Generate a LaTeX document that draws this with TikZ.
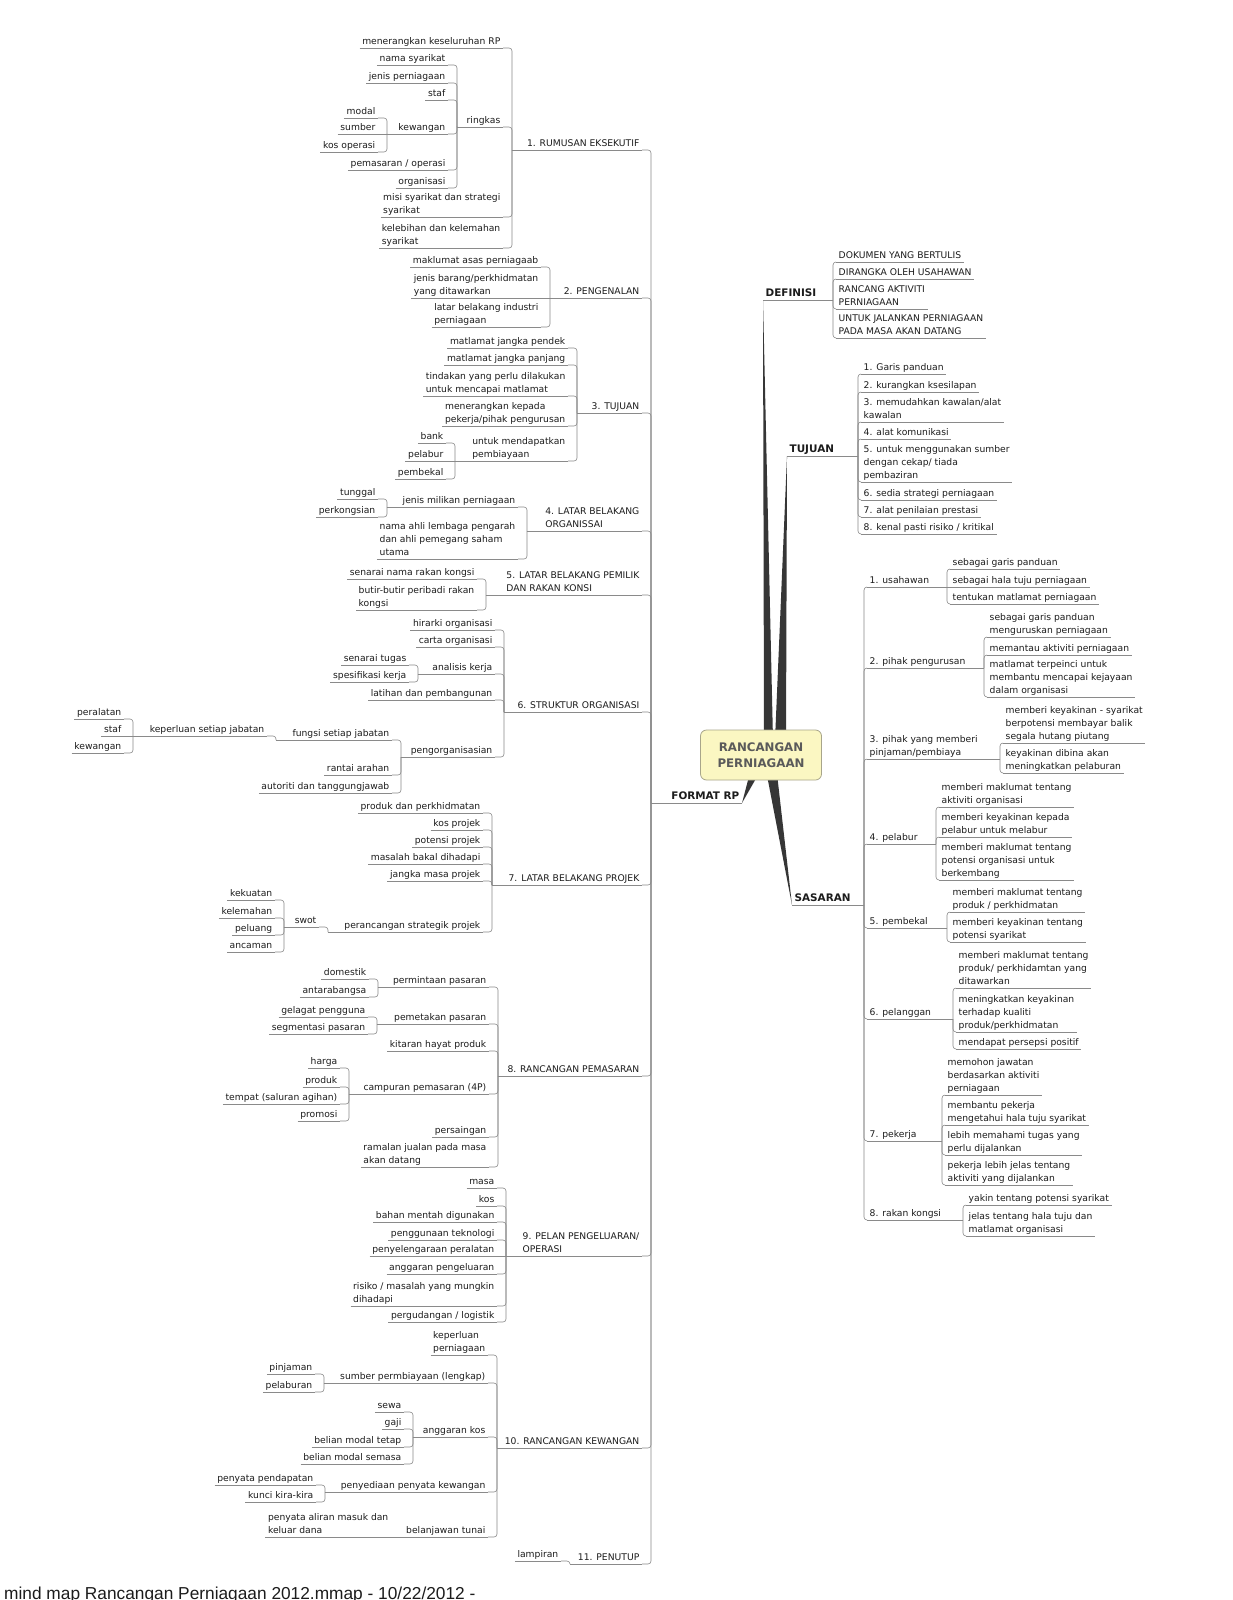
\documentclass[tikz,border=0pt]{standalone}
\usepackage{fontspec}
\setmainfont{DejaVu Sans}
\newfontfamily\footfamily{Liberation Sans}
\usetikzlibrary{calc}
\definecolor{lnc}{HTML}{8A8A8A}
\definecolor{txt}{HTML}{1C1C1C}
\definecolor{brc}{HTML}{363636}
\definecolor{rootfill}{HTML}{FBF7C2}
\definecolor{rootdraw}{HTML}{A8A58A}
\definecolor{roottext}{HTML}{5A5A5A}
\newcommand\tfont{\fontsize{9.2}{12.8}\selectfont}
\newcommand\bfont{\fontsize{10.4}{12.5}\selectfont\bfseries}
\newcommand\rfont{\fontsize{11.8}{16}\selectfont\bfseries}
\tikzset{
  ln/.style={draw=lnc,line width=0.6pt},
  tp/.style={font=\tfont,text=txt,inner xsep=2.5pt,inner ysep=1pt,text depth=2.3pt,align=left,
             append after command={(\tikzlastnode.south west) edge[ln] (\tikzlastnode.south east)}},
  lt/.style={tp,anchor=south east},
  rt/.style={tp,anchor=south west},
  hd/.style={font=\bfont},
  br/.style={fill=brc},
  root/.style={draw=rootdraw,fill=rootfill,rounded corners=6pt,line width=0.8pt,
               minimum width=121pt,minimum height=50pt,font=\rfont,text=roottext,align=center}
}
% children on the left of a topic / on the right of a topic
\newcommand\lkids[3]{%
  \coordinate (#1-h) at (#1.south -| #2,0);
  \draw[ln] (#1-h) -- (#1.south east);
  \foreach \ch in {#3} {\draw[ln,rounded corners=3pt] (\ch.south east) -| (#1-h);}}
\newcommand\rkids[3]{%
  \coordinate (#1-h) at (#1.south -| #2,0);
  \draw[ln] (#1.south west) -- (#1-h);
  \foreach \ch in {#3} {\draw[ln,rounded corners=3pt] (\ch.south west) -| (#1-h);}}
\newcommand\lstraight[2]{\draw[ln] (#2.south east) -- (#1-h);}
\newcommand\rstraight[2]{\draw[ln] (#2.south west) -- (#1-h);}

\begin{document}
\begin{tikzpicture}[x=1pt,y=-1pt]
  \fill[white] (0,0) rectangle (1232,1600);
  \useasboundingbox (0,0) rectangle (1232,1600);

  % main branches
  \node[rt,hd] (def) at (763,300) {DEFINISI};
  \node[rt,hd] (tuj) at (787,456) {TUJUAN};
  \node[rt,hd] (sas) at (792,905) {SASARAN};
  \node[lt,hd] (fmt) at (742,803) {FORMAT RP};
  \fill[br] (764,740) -- (773,740) -- (def.south west) -- cycle;
  \fill[br] (775,740) -- (786,740) -- (tuj.south west) -- cycle;
  \fill[br] (765,765) -- (776,765) -- (sas.south west) -- cycle;
  \fill[br] (752,765) -- (762,768) -- (fmt.south east) -- cycle;
  \node[root] (root) at (761,755) {RANCANGAN\\PERNIAGAAN};

  % 1
  \node[lt] (t1) at (642,150) {1. RUMUSAN EKSEKUTIF};
  \node[lt] (t1a) at (503,48) {menerangkan keseluruhan RP};
  \node[lt] (t1b) at (503,127) {ringkas};
  \node[lt] (t1c) at (503,217) {misi syarikat dan strategi\\syarikat};
  \node[lt] (t1d) at (503,248) {kelebihan dan kelemahan\\syarikat};
  \node[lt] (t1b1) at (448,65) {nama syarikat};
  \node[lt] (t1b2) at (448,83) {jenis perniagaan};
  \node[lt] (t1b3) at (448,100) {staf};
  \node[lt] (t1b4) at (448,134) {kewangan};
  \node[lt] (t1b5) at (448,170) {pemasaran / operasi};
  \node[lt] (t1b6) at (448,188) {organisasi};
  \node[lt] (t1b4a) at (378,118) {modal};
  \node[lt] (t1b4b) at (378,134) {sumber};
  \node[lt] (t1b4c) at (378,152) {kos operasi};
  \lkids{t1}{512}{t1a,t1b,t1c,t1d}
  \lkids{t1b}{457}{t1b1,t1b2,t1b3,t1b4,t1b5,t1b6}
  \lkids{t1b4}{387}{t1b4a,t1b4c}
  \lstraight{t1b4}{t1b4b}

  % 2
  \node[lt] (t2) at (642,298) {2. PENGENALAN};
  \node[lt] (t2a) at (541,267) {maklumat asas perniagaab};
  \node[lt] (t2b) at (541,298) {jenis barang/perkhidmatan\\yang ditawarkan};
  \node[lt] (t2c) at (541,327) {latar belakang industri\\perniagaan};
  \lkids{t2}{550}{t2a,t2c}
  \lstraight{t2}{t2b}

  % 3
  \node[lt] (t3) at (642,413) {3. TUJUAN};
  \node[lt] (t3a) at (568,348) {matlamat jangka pendek};
  \node[lt] (t3b) at (568,365) {matlamat jangka panjang};
  \node[lt] (t3c) at (568,396) {tindakan yang perlu dilakukan\\untuk mencapai matlamat};
  \node[lt] (t3d) at (568,426) {menerangkan kepada\\pekerja/pihak pengurusan};
  \node[lt] (t3e) at (568,461) {untuk mendapatkan\\pembiayaan};
  \node[lt] (t3e1) at (446,443) {bank};
  \node[lt] (t3e2) at (446,461) {pelabur};
  \node[lt] (t3e3) at (446,479) {pembekal};
  \lkids{t3}{577}{t3a,t3b,t3c,t3d,t3e}
  \lkids{t3e}{455}{t3e1,t3e3}
  \lstraight{t3e}{t3e2}

  % 4
  \node[lt] (t4) at (642,531) {4. LATAR BELAKANG\\ORGANISSAI};
  \node[lt] (t4a) at (518,507) {jenis milikan perniagaan};
  \node[lt] (t4b) at (518,559) {nama ahli lembaga pengarah\\dan ahli pemegang saham\\utama};
  \node[lt] (t4a1) at (378,499) {tunggal};
  \node[lt] (t4a2) at (378,517) {perkongsian};
  \lkids{t4}{527}{t4a,t4b}
  \lkids{t4a}{387}{t4a1,t4a2}

  % 5
  \node[lt] (t5) at (642,595) {5. LATAR BELAKANG PEMILIK\\DAN RAKAN KONSI};
  \node[lt] (t5a) at (477,579) {senarai nama rakan kongsi};
  \node[lt] (t5b) at (477,610) {butir-butir peribadi rakan\\kongsi};
  \lkids{t5}{486}{t5a,t5b}

  % 6
  \node[lt] (t6) at (642,712) {6. STRUKTUR ORGANISASI};
  \node[lt] (t6a) at (495,630) {hirarki organisasi};
  \node[lt] (t6b) at (495,647) {carta organisasi};
  \node[lt] (t6c) at (495,674) {analisis kerja};
  \node[lt] (t6d) at (495,700) {latihan dan pembangunan};
  \node[lt] (t6e) at (495,757) {pengorganisasian};
  \node[lt] (t6c1) at (409,665) {senarai tugas};
  \node[lt] (t6c2) at (409,682) {spesifikasi kerja};
  \node[lt] (t6e1) at (392,740) {fungsi setiap jabatan};
  \node[lt] (t6e2) at (392,775) {rantai arahan};
  \node[lt] (t6e3) at (392,793) {autoriti dan tanggungjawab};
  \node[lt] (t6f) at (267,736) {keperluan setiap jabatan};
  \node[lt] (t6f1) at (124,719) {peralatan};
  \node[lt] (t6f2) at (124,736) {staf};
  \node[lt] (t6f3) at (124,753) {kewangan};
  \lkids{t6}{504}{t6a,t6b,t6c,t6d,t6e}
  \lkids{t6c}{418}{t6c1,t6c2}
  \lkids{t6e}{401}{t6e1,t6e2,t6e3}
  \lkids{t6e1}{276}{t6f}
  \lkids{t6f}{133}{t6f1,t6f3}
  \lstraight{t6f}{t6f2}

  % 7
  \node[lt] (t7) at (642,885) {7. LATAR BELAKANG PROJEK};
  \node[lt] (t7a) at (483,813) {produk dan perkhidmatan};
  \node[lt] (t7b) at (483,830) {kos projek};
  \node[lt] (t7c) at (483,847) {potensi projek};
  \node[lt] (t7d) at (483,864) {masalah bakal dihadapi};
  \node[lt] (t7e) at (483,881) {jangka masa projek};
  \node[lt] (t7f) at (483,932) {perancangan strategik projek};
  \node[lt] (t7g) at (319,927) {swot};
  \node[lt] (t7g1) at (275,900) {kekuatan};
  \node[lt] (t7g2) at (275,918) {kelemahan};
  \node[lt] (t7g3) at (275,935) {peluang};
  \node[lt] (t7g4) at (275,952) {ancaman};
  \lkids{t7}{492}{t7a,t7b,t7c,t7d,t7e,t7f}
  \lkids{t7f}{328}{t7g}
  \lkids{t7g}{284}{t7g1,t7g2,t7g3,t7g4}

  % 8
  \node[lt] (t8) at (642,1076) {8. RANCANGAN PEMASARAN};
  \node[lt] (t8a) at (489,987) {permintaan pasaran};
  \node[lt] (t8b) at (489,1024) {pemetakan pasaran};
  \node[lt] (t8c) at (489,1051) {kitaran hayat produk};
  \node[lt] (t8d) at (489,1094) {campuran pemasaran (4P)};
  \node[lt] (t8e) at (489,1137) {persaingan};
  \node[lt] (t8f) at (489,1167) {ramalan jualan pada masa\\akan datang};
  \node[lt] (t8a1) at (369,979) {domestik};
  \node[lt] (t8a2) at (369,997) {antarabangsa};
  \node[lt] (t8b1) at (368,1017) {gelagat pengguna};
  \node[lt] (t8b2) at (368,1034) {segmentasi pasaran};
  \node[lt] (t8d1) at (340,1068) {harga};
  \node[lt] (t8d2) at (340,1087) {produk};
  \node[lt] (t8d3) at (340,1104) {tempat (saluran agihan)};
  \node[lt] (t8d4) at (340,1121) {promosi};
  \lkids{t8}{498}{t8a,t8b,t8c,t8d,t8e,t8f}
  \lkids{t8a}{378}{t8a1,t8a2}
  \lkids{t8b}{377}{t8b1,t8b2}
  \lkids{t8d}{349}{t8d1,t8d2,t8d3,t8d4}

  % 9
  \node[lt] (t9) at (642,1256) {9. PELAN PENGELUARAN/\\OPERASI};
  \node[lt] (t9a) at (497,1188) {masa};
  \node[lt] (t9b) at (497,1206) {kos};
  \node[lt] (t9c) at (497,1222) {bahan mentah digunakan};
  \node[lt] (t9d) at (497,1240) {penggunaan teknologi};
  \node[lt] (t9e) at (497,1256) {penyelengaraan peralatan};
  \node[lt] (t9f) at (497,1274) {anggaran pengeluaran};
  \node[lt] (t9g) at (497,1306) {risiko / masalah yang mungkin\\dihadapi};
  \node[lt] (t9h) at (497,1322) {pergudangan / logistik};
  \lkids{t9}{506}{t9a,t9b,t9c,t9d,t9f,t9g,t9h}
  \lstraight{t9}{t9e}

  % 10
  \node[lt] (t10) at (642,1448) {10. RANCANGAN KEWANGAN};
  \node[lt] (t10a) at (488,1355) {keperluan\\perniagaan};
  \node[lt] (t10b) at (488,1383) {sumber permbiayaan (lengkap)};
  \node[lt] (t10c) at (488,1437) {anggaran kos};
  \node[lt] (t10d) at (488,1492) {penyediaan penyata kewangan};
  \node[lt] (t10e) at (488,1537) {belanjawan tunai};
  \node[lt] (t10b1) at (315,1374) {pinjaman};
  \node[lt] (t10b2) at (315,1392) {pelaburan};
  \node[lt] (t10c1) at (404,1412) {sewa};
  \node[lt] (t10c2) at (404,1429) {gaji};
  \node[lt] (t10c3) at (404,1447) {belian modal tetap};
  \node[lt] (t10c4) at (404,1464) {belian modal semasa};
  \node[lt] (t10d1) at (316,1485) {penyata pendapatan};
  \node[lt] (t10d2) at (316,1502) {kunci kira-kira};
  \node[lt] (t10e1) at (391,1537) {penyata aliran masuk dan\\keluar dana};
  \lkids{t10}{497}{t10a,t10b,t10c,t10d,t10e}
  \lkids{t10b}{324}{t10b1,t10b2}
  \lkids{t10c}{413}{t10c1,t10c2,t10c3,t10c4}
  \lkids{t10d}{325}{t10d1,t10d2}
  \coordinate (t10e-h) at (t10e.south -| 400,0);
  \draw[ln] (t10e-h) -- (t10e.south east);
  \lstraight{t10e}{t10e1}

  % 11
  \node[lt] (t11) at (642,1564) {11. PENUTUP};
  \node[lt] (t11a) at (561,1561) {lampiran};
  \lkids{t11}{570}{t11a}

  \lkids{fmt}{651}{t1,t2,t3,t4,t5,t6,t7,t8,t9,t10,t11}

  % DEFINISI
  \node[rt] (d1) at (836,262) {DOKUMEN YANG BERTULIS};
  \node[rt] (d2) at (836,279) {DIRANGKA OLEH USAHAWAN};
  \node[rt] (d3) at (836,309) {RANCANG AKTIVITI\\PERNIAGAAN};
  \node[rt] (d4) at (836,338) {UNTUK JALANKAN PERNIAGAAN\\PADA MASA AKAN DATANG};
  \rkids{def}{833}{d1,d2,d3,d4}

  % TUJUAN
  \node[rt] (u1) at (861,374) {1. Garis panduan};
  \node[rt] (u2) at (861,392) {2. kurangkan ksesilapan};
  \node[rt] (u3) at (861,422) {3. memudahkan kawalan/alat\\kawalan};
  \node[rt] (u4) at (861,439) {4. alat komunikasi};
  \node[rt] (u5) at (861,482) {5. untuk menggunakan sumber\\dengan cekap/ tiada\\pembaziran};
  \node[rt] (u6) at (861,500) {6. sedia strategi perniagaan};
  \node[rt] (u7) at (861,517) {7. alat penilaian prestasi};
  \node[rt] (u8) at (861,534) {8. kenal pasti risiko / kritikal};
  \rkids{tuj}{858}{u1,u2,u3,u4,u5,u6,u7,u8}

  % SASARAN
  \node[rt] (s1) at (867,587) {1. usahawan};
  \node[rt] (s2) at (867,668) {2. pihak pengurusan};
  \node[rt] (s3) at (867,759) {3. pihak yang memberi\\pinjaman/pembiaya};
  \node[rt] (s4) at (867,844) {4. pelabur};
  \node[rt] (s5) at (867,928) {5. pembekal};
  \node[rt] (s6) at (867,1019) {6. pelanggan};
  \node[rt] (s7) at (867,1141) {7. pekerja};
  \node[rt] (s8) at (867,1220) {8. rakan kongsi};
  \rkids{sas}{864}{s1,s2,s3,s4,s5,s6,s7,s8}

  \node[rt] (s1a) at (950,569) {sebagai garis panduan};
  \node[rt] (s1b) at (950,587) {sebagai hala tuju perniagaan};
  \node[rt] (s1c) at (950,604) {tentukan matlamat perniagaan};
  \rkids{s1}{947}{s1a,s1c}
  \rstraight{s1}{s1b}

  \node[rt] (s2a) at (987,637) {sebagai garis panduan\\menguruskan perniagaan};
  \node[rt] (s2b) at (987,655) {memantau aktiviti perniagaan};
  \node[rt] (s2c) at (987,697) {matlamat terpeinci untuk\\membantu mencapai kejayaan\\dalam organisasi};
  \rkids{s2}{984}{s2a,s2b,s2c}

  \node[rt] (s3a) at (1003,743) {memberi keyakinan - syarikat\\berpotensi membayar balik\\segala hutang piutang};
  \node[rt] (s3b) at (1003,773) {keyakinan dibina akan\\meningkatkan pelaburan};
  \rkids{s3}{1000}{s3a,s3b}

  \node[rt] (s4a) at (939,807) {memberi maklumat tentang\\aktiviti organisasi};
  \node[rt] (s4b) at (939,837) {memberi keyakinan kepada\\pelabur untuk melabur};
  \node[rt] (s4c) at (939,880) {memberi maklumat tentang\\potensi organisasi untuk\\berkembang};
  \rkids{s4}{936}{s4a,s4b,s4c}

  \node[rt] (s5a) at (950,912) {memberi maklumat tentang\\produk / perkhidmatan};
  \node[rt] (s5b) at (950,942) {memberi keyakinan tentang\\potensi syarikat};
  \rkids{s5}{947}{s5a,s5b}

  \node[rt] (s6a) at (956,988) {memberi maklumat tentang\\produk/ perkhidamtan yang\\ditawarkan};
  \node[rt] (s6b) at (956,1032) {meningkatkan keyakinan\\terhadap kualiti\\produk/perkhidmatan};
  \node[rt] (s6c) at (956,1049) {mendapat persepsi positif};
  \rkids{s6}{953}{s6a,s6b,s6c}

  \node[rt] (s7a) at (945,1095) {memohon jawatan\\berdasarkan aktiviti\\perniagaan};
  \node[rt] (s7b) at (945,1125) {membantu pekerja\\mengetahui hala tuju syarikat};
  \node[rt] (s7c) at (945,1155) {lebih memahami tugas yang\\perlu dijalankan};
  \node[rt] (s7d) at (945,1185) {pekerja lebih jelas tentang\\aktiviti yang dijalankan};
  \rkids{s7}{942}{s7a,s7b,s7c,s7d}

  \node[rt] (s8a) at (966,1205) {yakin tentang potensi syarikat};
  \node[rt] (s8b) at (966,1236) {jelas tentang hala tuju dan\\matlamat organisasi};
  \rkids{s8}{963}{s8a,s8b}

  % footer
  \node[anchor=base west,inner sep=0pt,text=txt,font={\footfamily\fontsize{17.3}{20}\selectfont}]
    (foot) at (4,1599) {mind map Rancangan Perniagaan 2012.mmap - 10/22/2012 -};
\end{tikzpicture}
\end{document}
